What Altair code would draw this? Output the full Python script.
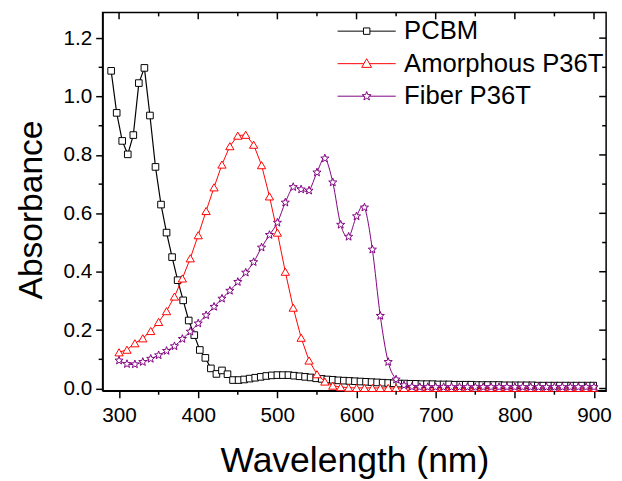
import altair as alt
import pandas as pd

SERIES = ["PCBM", "Amorphous P36T", "Fiber P36T"]
COLORS = ["#000000", "#ff0000", "#800080"]

pcbm_wl = [290, 297, 304, 311, 318, 325, 332, 339, 346, 353, 360, 367, 374, 381, 388, 395,
           402, 409, 416, 423, 430, 437, 444, 451, 458, 465, 472, 479, 486, 493, 500, 507,
           514, 521, 528, 535, 542, 549, 556, 563, 570, 577, 584, 591, 598, 605, 612, 619,
           626, 633, 640, 647, 654, 661, 668, 675, 682, 689, 696, 703, 710, 717, 724, 731,
           738, 745, 752, 759, 766, 773, 780, 787, 794, 801, 808, 815, 822, 829, 836, 843,
           850, 857, 864, 871, 878, 885, 892, 899]
pcbm_abs = [1.088, 0.944, 0.848, 0.802, 0.868, 1.046, 1.098, 0.935, 0.759, 0.630, 0.534, 0.450,
            0.371, 0.302, 0.233, 0.183, 0.132, 0.105, 0.069, 0.050, 0.062, 0.049, 0.029, 0.029,
            0.031, 0.034, 0.037, 0.040, 0.043, 0.045, 0.046, 0.046, 0.046, 0.044, 0.042, 0.040,
            0.038, 0.035, 0.033, 0.031, 0.030, 0.028, 0.027, 0.026, 0.025, 0.024, 0.023, 0.022,
            0.021, 0.020, 0.019, 0.018, 0.017, 0.017, 0.016, 0.016, 0.015, 0.015, 0.015, 0.014,
            0.014, 0.014, 0.013, 0.013, 0.013, 0.013, 0.012, 0.012, 0.012, 0.012, 0.012, 0.011,
            0.011, 0.011, 0.011, 0.011, 0.011, 0.010, 0.010, 0.010, 0.010, 0.010, 0.010, 0.010,
            0.010, 0.010, 0.010, 0.010]

amor_wl = [300, 310, 320, 330, 340, 350, 360, 370, 380, 390, 400, 410, 420, 430, 440, 450,
           460, 470, 480, 490, 500, 510, 520, 530, 540, 550, 560, 570, 580, 590, 600, 610,
           620, 630, 640, 650, 660, 670, 680, 690, 700, 710, 720, 730, 740, 750, 760, 770,
           780, 790, 800, 810, 820, 830, 840, 850, 860, 870, 880, 890, 900]
amor_abs = [0.124, 0.133, 0.155, 0.172, 0.197, 0.228, 0.265, 0.315, 0.377, 0.446, 0.525, 0.608,
            0.689, 0.767, 0.830, 0.866, 0.869, 0.835, 0.765, 0.658, 0.534, 0.400, 0.277, 0.174,
            0.096, 0.049, 0.024, 0.010, 0.005, 0.003, 0.002, 0.002, 0.002, 0.002, 0.002, 0.002,
            0.002, 0.002, 0.002, 0.002, 0.002, 0.002, 0.002, 0.002, 0.002, 0.002, 0.002, 0.002,
            0.002, 0.002, 0.002, 0.002, 0.002, 0.002, 0.002, 0.002, 0.002, 0.002, 0.002, 0.002,
            0.002]

fiber_wl = amor_wl
fiber_abs = [0.096, 0.084, 0.083, 0.091, 0.102, 0.114, 0.129, 0.145, 0.170, 0.195, 0.223, 0.251,
             0.280, 0.308, 0.335, 0.365, 0.397, 0.433, 0.483, 0.526, 0.568, 0.637, 0.690, 0.682,
             0.678, 0.740, 0.788, 0.706, 0.561, 0.520, 0.590, 0.620, 0.476, 0.249, 0.091, 0.031,
             0.011, 0.006, 0.005, 0.005, 0.005, 0.005, 0.005, 0.005, 0.005, 0.005, 0.005, 0.005,
             0.005, 0.005, 0.005, 0.005, 0.005, 0.005, 0.005, 0.005, 0.005, 0.005, 0.005, 0.005,
             0.005]

x_major = [300, 400, 500, 600, 700, 800, 900]
x_minor = [350, 450, 550, 650, 750, 850]
y_major = [0.0, 0.2, 0.4, 0.6, 0.8, 1.0, 1.2]
y_minor = [0.1, 0.3, 0.5, 0.7, 0.9, 1.1]

W, H = 511, 384
FONT = "Liberation Sans"
X_DOMAIN = [279.2, 915.3]
Y_DOMAIN = [-0.0078, 1.288]

STAR = ("M0,-1L0.247,-0.34L0.951,-0.309L0.399,0.13L0.588,0.809L0,0.42"
        "L-0.588,0.809L-0.399,0.13L-0.951,-0.309L-0.247,-0.34Z")
LEGEND_PATHS = [
    "M-5.9,0H-0.65M0.65,0H5.9M-0.65,-0.65H0.65V0.65H-0.65Z",
    "M-5.9,0H-0.57M0.57,0H5.9M0,-1L1,0.75H-1Z",
    "M-5.9,0H-0.53M0.53,0H5.9M0,-0.95L0.235,-0.323L0.903,-0.294L0.379,0.124L0.559,0.769"
    "L0,0.399L-0.559,0.769L-0.379,0.124L-0.903,-0.294L-0.235,-0.323Z",
]

xs = alt.Scale(domain=X_DOMAIN, nice=False, zero=False)
ys = alt.Scale(domain=Y_DOMAIN, nice=False, zero=False)

x_axis = alt.Axis(
    values=x_major, title="Wavelength (nm)", grid=False, orient="bottom",
    labelFont=FONT, labelFontSize=21, labelColor="black", labelPadding=7,
    ticks=True, tickSize=7, tickColor="black", tickWidth=1.5,
    domain=True, domainColor="black", domainWidth=1.5,
    titleFont=FONT, titleFontSize=36, titleFontWeight="normal", titleColor="black",
    titlePadding=19,
)
y_axis = alt.Axis(
    values=y_major, format=".1f", title="Absorbance", grid=False, orient="left",
    labelFont=FONT, labelFontSize=21, labelColor="black", labelPadding=4,
    ticks=True, tickSize=7, tickColor="black", tickWidth=1.5,
    domain=True, domainColor="black", domainWidth=1.5,
    titleFont=FONT, titleFontSize=34, titleFontWeight="normal", titleColor="black",
    titlePadding=15, titleY=200,
)

pcbm_df = pd.DataFrame({"wl": pcbm_wl, "a": pcbm_abs})
amor_df = pd.DataFrame({"wl": amor_wl, "a": amor_abs})
fiber_df = pd.DataFrame({"wl": fiber_wl, "a": fiber_abs})

XE = alt.X("wl:Q", scale=xs, axis=x_axis)
YE = alt.Y("a:Q", scale=ys, axis=y_axis)

layers = []
specs = [
    (pcbm_df, COLORS[0], "square", 45, "linear", 1.2),
    (amor_df, COLORS[1], "triangle-up", 70, "linear", 1.0),
    (fiber_df, COLORS[2], STAR, 75, "cardinal", 1.0),
]
for df, col, shape, size, interp, lw in specs:
    layers.append(alt.Chart(df).mark_line(color=col, strokeWidth=lw, interpolate=interp)
                  .encode(x=XE, y=YE))
    layers.append(alt.Chart(df).mark_point(shape=shape, size=size, filled=True, fill="white",
                                           stroke=col, strokeWidth=1, opacity=1)
                  .encode(x=XE, y=YE))

# minor outward ticks (bottom/left) and inward ticks (top/right)
xmaj_df = pd.DataFrame({"wl": x_major})
xmin_df = pd.DataFrame({"wl": x_minor})
ymaj_df = pd.DataFrame({"a": y_major})
ymin_df = pd.DataFrame({"a": y_minor})
layers.append(alt.Chart(xmin_df).mark_rule(color="black", strokeWidth=1.5).encode(
    x=XE, y=alt.value(H), y2=alt.value(H + 4)))
layers.append(alt.Chart(ymin_df).mark_rule(color="black", strokeWidth=1.5).encode(
    y=YE, x=alt.value(0), x2=alt.value(-4)))
for df, ln in [(xmaj_df, 7), (xmin_df, 4)]:
    layers.append(alt.Chart(df).mark_rule(color="black", strokeWidth=1.5).encode(
        x=XE, y=alt.value(0), y2=alt.value(ln)))
for df, ln in [(ymaj_df, 7), (ymin_df, 4)]:
    layers.append(alt.Chart(df).mark_rule(color="black", strokeWidth=1.5).encode(
        y=YE, x=alt.value(W), x2=alt.value(W - ln)))

legend = alt.Legend(
    title=None, orient="none", legendX=234, legendY=6, padding=0,
    labelFont=FONT, labelFontSize=26, labelColor="black", labelLimit=400,
    symbolSize=100, symbolStrokeWidth=1, symbolOffset=21, labelOffset=25,
    rowPadding=7,
)
legend_df = pd.DataFrame({"series": SERIES})
layers.append(
    alt.Chart(legend_df).transform_filter("false")
    .mark_point(filled=False, opacity=1, strokeWidth=1)
    .encode(
        color=alt.Color("series:N", scale=alt.Scale(domain=SERIES, range=COLORS), legend=legend),
        shape=alt.Shape("series:N", scale=alt.Scale(domain=SERIES, range=LEGEND_PATHS), legend=legend),
    )
)

chart = (
    alt.layer(*layers)
    .properties(width=W, height=H, autosize=alt.AutoSizeParams(type="none"),
                background="white",
                padding={"left": 96, "top": 1, "right": 8, "bottom": 86})
    .configure_view(stroke="black", strokeWidth=1.5)
)

chart.save("out.html", embed_options={"renderer": "svg", "actions": False})
